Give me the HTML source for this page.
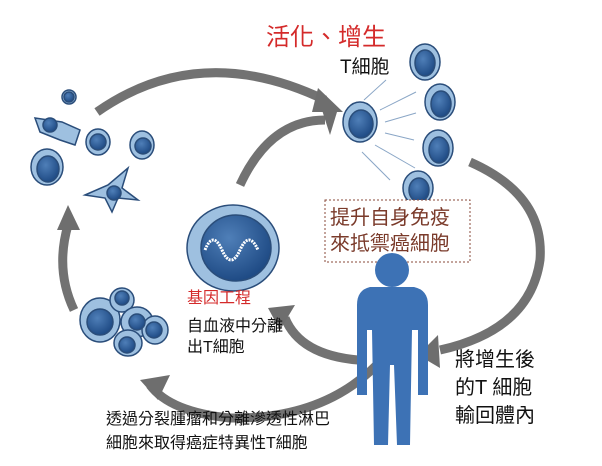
<!DOCTYPE html>
<html><head><meta charset="utf-8"><style>
body{margin:0;background:#fff;width:602px;height:466px;overflow:hidden;font-family:"Liberation Sans","Noto Sans CJK TC",sans-serif}
.t{position:absolute;white-space:nowrap;line-height:1}
</style></head><body>
<svg width="602" height="466" style="position:absolute;left:0;top:0">
<defs>
<radialGradient id="n" cx="40%" cy="35%" r="65%"><stop offset="0" stop-color="#4f7fb8"/><stop offset="1" stop-color="#1f4b85"/></radialGradient>
</defs>
<g fill="none" stroke="#727272" stroke-width="9">
<path d="M97,112 Q200,40 325,100"/>
<path d="M470,162 Q545,195 540,260 Q530,330 440,350"/>
<path d="M358,360 Q300,355 285,318"/>
<path d="M386,355 Q330,420 230,418 Q170,412 150,385"/>
<path d="M74,310 Q55,270 68,225"/>
<path d="M240,185 Q270,120 325,120"/>
</g>
<g fill="#6e6e6e">
<polygon points="343,112 318,88 312,112"/>
<polygon points="418,355 438,335 440,368"/>
<polygon points="268,308 295,305 280,330"/>
<polygon points="140,380 170,375 158,400"/>
<polygon points="68,205 57,230 80,230"/>
<polygon points="337,112 322,110 330,135"/>
</g>
<g stroke="#8aa6c6" stroke-width="1" fill="none">
<path d="M364,100 L386,80"/><path d="M380,110 L416,92"/><path d="M385,122 L416,113"/><path d="M385,133 L414,140"/><path d="M375,145 L415,168"/><path d="M362,152 L390,180"/>
</g>
<g stroke="#2a4d7a" stroke-width="1.5">
<ellipse cx="360" cy="122" rx="17" ry="20" fill="#9ec0e0"/><ellipse cx="361" cy="124" rx="12" ry="14" fill="url(#n)"/>
<ellipse cx="425" cy="62" rx="15" ry="18" fill="#9ec0e0"/><ellipse cx="425" cy="63" rx="10" ry="13" fill="url(#n)"/>
<ellipse cx="440" cy="102" rx="15" ry="18" fill="#9ec0e0"/><ellipse cx="441" cy="104" rx="10" ry="13" fill="url(#n)"/>
<ellipse cx="438" cy="148" rx="15" ry="18" fill="#9ec0e0"/><ellipse cx="439" cy="150" rx="10" ry="13" fill="url(#n)"/>
<ellipse cx="418" cy="188" rx="15" ry="17" fill="#9ec0e0"/><ellipse cx="419" cy="190" rx="10" ry="12" fill="url(#n)"/>
<circle cx="69" cy="97" r="7" fill="#9ec0e0"/><circle cx="69" cy="97" r="5" fill="url(#n)"/>
<path d="M35,118 L62,122 L80,130 L75,145 L60,140 L40,132 Z" fill="#9ec0e0"/><circle cx="50" cy="125" r="7" fill="url(#n)"/>
<ellipse cx="98" cy="142" rx="12" ry="13" fill="#9ec0e0"/><circle cx="98" cy="142" r="8" fill="url(#n)"/>
<ellipse cx="142" cy="145" rx="12" ry="14" fill="#9ec0e0"/><circle cx="143" cy="146" r="8" fill="url(#n)"/>
<ellipse cx="47" cy="167" rx="16" ry="18" fill="#9ec0e0"/><ellipse cx="48" cy="169" rx="11" ry="13" fill="url(#n)"/>
<path d="M85,195 L108,185 L128,168 L122,188 L138,200 L118,198 L112,212 L105,198 Z" fill="#9ec0e0"/><circle cx="114" cy="193" r="7" fill="url(#n)"/>
<ellipse cx="233" cy="248" rx="46" ry="43" fill="#9ec0e0"/><ellipse cx="236" cy="248" rx="35" ry="33" fill="url(#n)"/>
<ellipse cx="100" cy="320" rx="20" ry="22" fill="#9ec0e0"/>
<ellipse cx="122" cy="300" rx="12" ry="12" fill="#9ec0e0"/>
<ellipse cx="137" cy="322" rx="16" ry="15" fill="#9ec0e0"/>
<ellipse cx="128" cy="343" rx="14" ry="13" fill="#9ec0e0"/>
<ellipse cx="155" cy="330" rx="13" ry="14" fill="#9ec0e0"/>
<circle cx="100" cy="322" r="13" fill="url(#n)"/><circle cx="122" cy="298" r="7" fill="url(#n)"/><circle cx="137" cy="322" r="8" fill="url(#n)"/><circle cx="127" cy="345" r="8" fill="url(#n)"/><circle cx="154" cy="330" r="8" fill="url(#n)"/>
</g>
<path d="M205,250 Q213,230 222,250 T240,250 T258,250" fill="none" stroke="#fff" stroke-width="3" stroke-dasharray="2 1"/>
<rect x="325" y="200" width="145" height="62" fill="#fff" stroke="#8a4a3a" stroke-dasharray="2 2"/>
<g fill="#3d72b5">
<circle cx="392" cy="270" r="17"/>
<path d="M370,287 L414,287 Q428,290 428,305 L428,395 L418,395 L418,330 L412,330 L410,445 L397,445 L394,365 L390,365 L388,445 L374,445 L372,330 L367,330 L367,395 L357,395 L357,305 Q357,290 370,287 Z"/>
</g>
</svg>
<div class="t" style="left:266px;top:26px;font-size:24px;color:#d42a2a">活化、增生</div>
<div class="t" style="left:340px;top:58px;font-size:19px;color:#111">T細胞</div>
<div class="t" style="left:330px;top:205px;font-size:20px;color:#7a3a2a;line-height:26px">提升自身免疫<br>來抵禦癌細胞</div>
<div class="t" style="left:187px;top:291px;font-size:16px;color:#d42a2a">基因工程</div>
<div class="t" style="left:187px;top:316px;font-size:16px;color:#111;line-height:21px">自血液中分離<br>出T細胞</div>
<div class="t" style="left:455px;top:346px;font-size:20px;color:#111;line-height:28px">將增生後<br>的T 細胞<br>輸回體內</div>
<div class="t" style="left:106px;top:408px;font-size:16px;color:#111;line-height:24px">透過分裂腫瘤和分離滲透性淋巴<br>細胞來取得癌症特異性T細胞</div>
</body></html>
